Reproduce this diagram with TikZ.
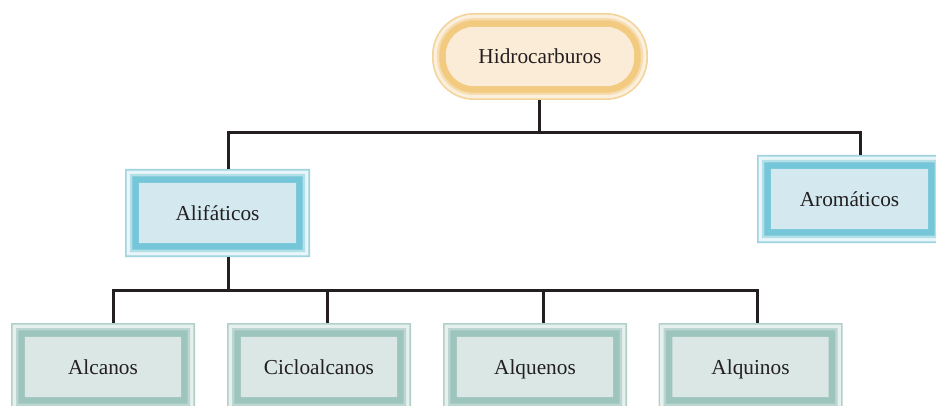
\documentclass[tikz,border=0pt]{standalone}
\usepackage{fontspec}
\setmainfont{Liberation Serif}
\usetikzlibrary{backgrounds}
\definecolor{ink}{HTML}{231F20}
% blue frame
\definecolor{bO}{HTML}{9ED3E0}\definecolor{bW}{HTML}{E9F6F9}\definecolor{bL}{HTML}{B3DFE9}\definecolor{bS}{HTML}{74C6D8}\definecolor{bF}{HTML}{D3E9EF}
% teal frame
\definecolor{tO}{HTML}{B2CFCA}\definecolor{tW}{HTML}{E6F0EE}\definecolor{tL}{HTML}{BCD6D2}\definecolor{tS}{HTML}{9EC4BE}\definecolor{tF}{HTML}{DAE7E5}
% orange frame
\definecolor{oO}{HTML}{F3D49C}\definecolor{oW}{HTML}{FBF0DD}\definecolor{oL}{HTML}{F6DCAE}\definecolor{oS}{HTML}{F2CA80}\definecolor{oF}{HTML}{FBECD7}
\newcommand\mybevel[7]{%
  \fill[#2, rounded corners={max(0.01,#7)}] (#1.north west) rectangle (#1.south east);
  \fill[#3, rounded corners={max(0.01,#7-1.7)}] ([shift={(1.7,1.7)}]#1.north west) rectangle ([shift={(-1.7,-1.7)}]#1.south east);
  \fill[#4, rounded corners={max(0.01,#7-5)}] ([shift={(5,5)}]#1.north west) rectangle ([shift={(-5,-5)}]#1.south east);
  \fill[#5, rounded corners={max(0.01,#7-7.3)}] ([shift={(7.3,7.3)}]#1.north west) rectangle ([shift={(-7.3,-7.3)}]#1.south east);
  \fill[#6, rounded corners={max(0.01,#7-13.8)}] ([shift={(13.8,13.8)}]#1.north west) rectangle ([shift={(-13.8,-13.8)}]#1.south east);
}
\begin{document}
\begin{tikzpicture}[x=1pt,y=-1pt,
  box/.style={rectangle, inner sep=0pt, outer sep=0pt, minimum width=185pt, minimum height=88pt,
    text height=19pt, text depth=4pt,
    font=\fontsize{21.3}{25}\selectfont, text=ink},
  conn/.style={draw=ink, line width=3pt}]
\useasboundingbox (0,0) rectangle (936,406);
\clip (0,0) rectangle (936,406);
\node[box, minimum width=216pt, minimum height=87pt] (hid) at (540,56.5) {Hidrocarburos};
\node[box] (ali) at (217.5,213) {Alifáticos};
\node[box] (aro) at (849.5,199) {Aromáticos};
\node[box, minimum width=184pt] (alc) at (103,367) {Alcanos};
\node[box, minimum width=184pt] (cic) at (319,367) {Cicloalcanos};
\node[box, minimum width=184pt] (alqe) at (535,367) {Alquenos};
\node[box, minimum width=184pt] (alqi) at (750.5,367) {Alquinos};
\begin{pgfonlayer}{background}
  \mybevel{hid}{oO}{oW}{oL}{oS}{oF}{42}
  \mybevel{ali}{bO}{bW}{bL}{bS}{bF}{0}
  \mybevel{aro}{bO}{bW}{bL}{bS}{bF}{0}
  \mybevel{alc}{tO}{tW}{tL}{tS}{tF}{0}
  \mybevel{cic}{tO}{tW}{tL}{tS}{tF}{0}
  \mybevel{alqe}{tO}{tW}{tL}{tS}{tF}{0}
  \mybevel{alqi}{tO}{tW}{tL}{tS}{tF}{0}
\end{pgfonlayer}
\coordinate (b1) at (540,133);
\coordinate (b2) at (228,290);
\draw[conn] ([xshift=-1pt]hid.south) -- ([xshift=-1pt]hid.south |- b1);
\draw[conn] ([xshift=10.5pt]ali.north) |- (b1) -| ([xshift=10.5pt]aro.north);
\draw[conn] ([xshift=10.5pt]ali.south) -- (b2);
\draw[conn] ([xshift=10pt]alc.north) |- (b2) -| ([xshift=6.5pt]alqi.north);
\draw[conn] ([xshift=8pt]cic.north) -- ([xshift=8pt]cic.north |- b2);
\draw[conn] ([xshift=8pt]alqe.north) -- ([xshift=8pt]alqe.north |- b2);
\end{tikzpicture}
\end{document}
